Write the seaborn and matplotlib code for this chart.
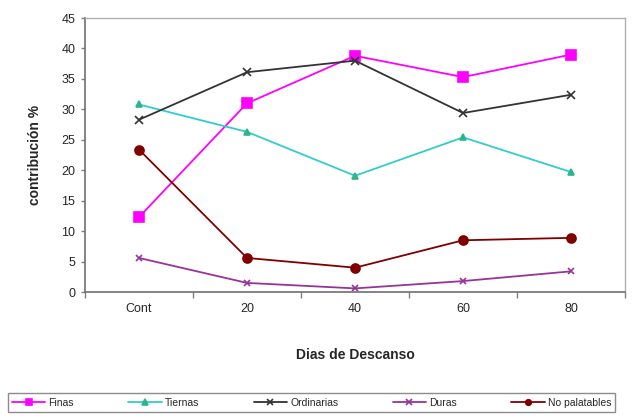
import matplotlib
matplotlib.use("Agg")
import matplotlib.pyplot as plt
import seaborn as sns
import pandas as pd
from matplotlib.ticker import FixedLocator

sns.set_style("white")
plt.rcParams["font.family"] = ["Liberation Sans", "DejaVu Sans"]

categories = ["Cont", "20", "40", "60", "80"]
finas = [12.3, 31.0, 38.8, 35.3, 39.0]
tiernas = [30.8, 26.3, 19.1, 25.4, 19.7]
ordinarias = [28.3, 36.1, 38.0, 29.4, 32.4]
duras = [5.6, 1.5, 0.6, 1.8, 3.4]
no_palatables = [23.4, 5.6, 4.0, 8.5, 8.9]

series = {
    "Finas": finas,
    "Tiernas": tiernas,
    "Ordinarias": ordinarias,
    "Duras": duras,
    "No palatables": no_palatables,
}
styles = {
    "Finas": dict(color="#FF00FF", marker="s", markersize=6.5),
    "Tiernas": dict(color="#33CCCC", marker="^", markersize=4, markerfacecolor="#2BB58A", markeredgecolor="#2BB58A"),
    "Ordinarias": dict(color="#333333", marker="x", markersize=6),
    "Duras": dict(color="#993399", marker="x", markersize=5),
    "No palatables": dict(color="#800000", marker="o", markersize=6.5),
}

rows = []
for name, vals in series.items():
    for i, v in enumerate(vals):
        rows.append({"pos": i, "dia": categories[i], "valor": v, "serie": name})
df = pd.DataFrame(rows)

fig = plt.figure(figsize=(6.34, 4.19), dpi=100)
ax = fig.add_axes([0.134, 0.303, 0.852, 0.654])

for name in series:
    sub = df[df["serie"] == name]
    st = styles[name]
    sns.lineplot(data=sub, x="pos", y="valor", ax=ax, color=st["color"],
                 linewidth=1.3, label=name, marker=st["marker"],
                 markersize=st["markersize"],
                 markerfacecolor=st.get("markerfacecolor", st["color"]),
                 markeredgecolor=st.get("markeredgecolor", st["color"]),
                 markeredgewidth=1.2)

ax.set_xlim(-0.5, 4.5)
ax.set_ylim(0, 45)
ax.set_yticks(range(0, 46, 5))
ax.xaxis.set_major_locator(FixedLocator(range(len(categories))))
ax.set_xticklabels(categories)
ax.xaxis.set_minor_locator(FixedLocator([x + 0.5 for x in range(-1, len(categories))]))
ax.tick_params(axis="x", which="major", length=0, pad=8, labelsize=9)
ax.tick_params(axis="x", which="minor", length=4, width=1, color="#808080", direction="out", bottom=True)
ax.tick_params(axis="y", length=3, width=1, color="#808080", direction="out", left=True, labelsize=9, pad=4)

for s in ["left", "bottom"]:
    ax.spines[s].set_color("#707070")
    ax.spines[s].set_linewidth(1.2)
for s in ["top", "right"]:
    ax.spines[s].set_color("#B0B0B0")
    ax.spines[s].set_linewidth(1.0)

ax.set_ylabel("contribución %", fontsize=10, fontweight="bold", labelpad=14)
ax.set_xlabel("Dias de Descanso", fontsize=10, fontweight="bold", labelpad=24)

handles, labels = ax.get_legend_handles_labels()
ax.get_legend().remove()
leg = fig.legend(handles, labels, loc="lower left", ncol=5, mode="expand",
                 bbox_to_anchor=(0.004, 0.005, 0.975, 0.06), fontsize=7.5,
                 frameon=True, fancybox=False, edgecolor="#707070",
                 handlelength=3.2, handletextpad=0.3, borderpad=0.4)
leg.get_frame().set_linewidth(1.0)
for h in leg.legend_handles:
    h.set_markersize(4)

fig.savefig("out.png", dpi=100)
